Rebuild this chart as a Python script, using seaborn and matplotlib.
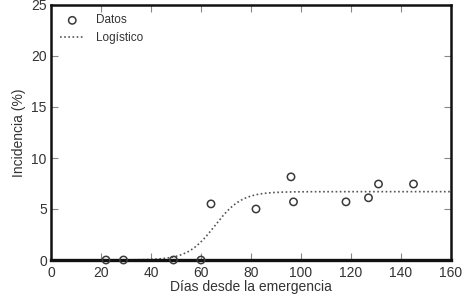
import numpy as np
import pandas as pd
import matplotlib
matplotlib.use("Agg")
import matplotlib.pyplot as plt
import seaborn as sns

# Observed data
dias = [22, 29, 49, 60, 64, 82, 96, 97, 118, 127, 131, 145]
incidencia = [0.0, 0.0, 0.0, 0.0, 5.5, 5.0, 8.15, 5.7, 5.7, 6.1, 7.45, 7.45]

# Logistic model parameters
K = 6.7
r = 0.185
m = 65.5
x_start, x_end = 0, 160

x_ticks = [0, 20, 40, 60, 80, 100, 120, 140, 160]
y_ticks = [0, 5, 10, 15, 20, 25]

sns.set_theme(style="ticks")
plt.rcParams['font.family'] = ['Liberation Sans', 'DejaVu Sans']

fig = plt.figure(figsize=(4.64, 3.08), dpi=100)
ax = fig.add_axes([51/464, 48/308, 400/464, 255/308])

xs = np.linspace(x_start, x_end, 400)
curve = pd.DataFrame({"x": xs, "y": K / (1 + np.exp(-r * (xs - m)))})
datos = pd.DataFrame({"x": dias, "y": incidencia})

sns.scatterplot(data=datos, x="x", y="y", ax=ax, marker="o", s=28,
                facecolor="none", edgecolor="#3a3a3a", linewidth=1.1,
                label="Datos", zorder=3, clip_on=False)
sns.lineplot(data=curve, x="x", y="y", ax=ax, color="#555555",
             linestyle=(0, (1, 1.5)), linewidth=1.2, label="Logístico")

ax.set_xlim(0, 160)
ax.set_ylim(0, 25)
ax.set_xticks(x_ticks)
ax.set_yticks(y_ticks)
ax.tick_params(direction="in", top=True, right=True, length=5, width=0.8,
               color="#888888", labelsize=10, labelcolor="#333333", pad=3)
ax.tick_params(axis="x", pad=4)
for s in ax.spines.values():
    s.set_linewidth(1.8)
    s.set_color("#111111")
ax.spines["bottom"].set_linewidth(2.4)

ax.set_xlabel("Días desde la emergencia", fontsize=10, color="#333333", labelpad=0)
ax.set_ylabel("Incidencia (%)", fontsize=10, color="#333333", labelpad=4)

leg = ax.legend(loc="upper left", frameon=False, fontsize=8.5,
                handlelength=2.0, borderaxespad=0.4, labelspacing=0.5,
                handletextpad=1.0)
for t in leg.get_texts():
    t.set_color("#333333")

fig.savefig("out.png", dpi=100)
